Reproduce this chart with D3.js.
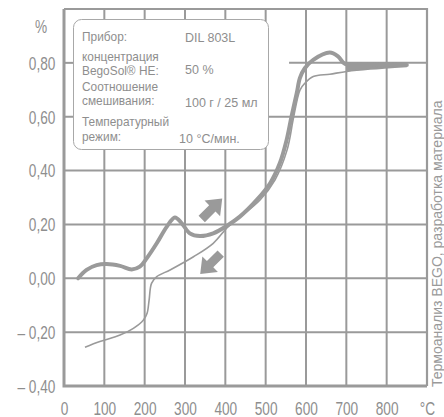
<!DOCTYPE html>
<html>
<head>
<meta charset="utf-8">
<script src="https://cdn.jsdelivr.net/npm/d3@7"></script>
<style>
  body { margin: 0; background: #fff; }
  svg { display: block; }
  .tick-label { font-family: "Liberation Sans", Arial, sans-serif; fill: #8e8e8e; }
  .legend text { font-family: "Liberation Sans", Arial, sans-serif; font-size: 12.5px; fill: #8e8e8e; }
</style>
</head>
<body>
<svg id="chart"></svg>
<script>
// heating curve (thick) – temperature °C / expansion %
const heatTemp  = [35, 56, 81, 106, 139, 168, 188, 205, 230, 255, 275, 292, 312, 337, 370, 407, 436, 478, 511, 535, 552, 564, 577, 585, 597, 618, 659, 680, 697, 759, 850];
const heatValue = [0.000, 0.031, 0.049, 0.053, 0.046, 0.033, 0.043, 0.074, 0.130, 0.192, 0.226, 0.204, 0.167, 0.157, 0.167, 0.198, 0.229, 0.291, 0.353, 0.427, 0.514, 0.600, 0.687, 0.744, 0.780, 0.811, 0.838, 0.823, 0.796, 0.794, 0.792];

// cooling curve (thin)
const coolTemp  = [52, 89, 139, 172, 197, 206, 211, 217, 230, 263, 321, 370, 407, 440, 486, 523, 553, 568, 578, 585, 597, 618, 659, 701, 759, 850];
const coolValue = [-0.256, -0.235, -0.211, -0.186, -0.155, -0.130, -0.081, -0.019, 0.006, 0.031, 0.080, 0.130, 0.192, 0.232, 0.291, 0.365, 0.476, 0.588, 0.662, 0.699, 0.724, 0.749, 0.758, 0.768, 0.777, 0.787];

const xTicks = [0, 100, 200, 300, 400, 500, 600, 700, 800, 900];
const xTickLabels = ["0", "100", "200", "300", "400", "500", "600", "700", "800", "°C"];
const yTicks = [-0.4, -0.2, 0, 0.2, 0.4, 0.6, 0.8];

const legendLabels = [["Прибор:"], ["концентрация", "BegoSol® HE:"], ["Соотношение", "смешивания:"], ["Температурный", "режим:"]];
const legendValues = ["DIL 803L", "50 %", "100 г / 25 мл", "10 °C/мин."];

const sideNote = "Термоанализ BEGO, разработка материала";

const W = 444, H = 417;
const grey = "#9a9a9a";
const condensed = 0.78;

const svg = d3.select("#chart").attr("width", W).attr("height", H);

const x = d3.scaleLinear().domain([0, 900]).range([64, 427]);
const y = d3.scaleLinear().domain([-0.4, 1.0]).range([386, 9]);

// grid
const grid = svg.append("g");
grid.selectAll(".vgrid")
  .data(xTicks.slice(1, -1))
  .join("line")
  .attr("x1", d => x(d)).attr("x2", d => x(d))
  .attr("y1", y(1.0)).attr("y2", y(-0.4))
  .attr("stroke", grey).attr("stroke-width", 2);

// the 0.80 line is only drawn at the right side (and a stub under the box)
const hSegments = [[-0.2, 0, 900], [0, 0, 900], [0.2, 0, 900], [0.4, 0, 900], [0.6, 0, 900], [0.8, 0, 60], [0.8, 558, 900]];
grid.selectAll(".hgrid")
  .data(hSegments)
  .join("line")
  .attr("x1", d => x(d[1])).attr("x2", d => x(d[2]))
  .attr("y1", d => y(d[0])).attr("y2", d => y(d[0]))
  .attr("stroke", grey).attr("stroke-width", 2);

// frame
svg.append("path")
  .attr("d", `M${x(0)},${y(1.0)}H${x(900)}V${y(-0.4)}`)
  .attr("fill", "none").attr("stroke", grey).attr("stroke-width", 2.2);
svg.append("path")
  .attr("d", `M${x(0)},${y(1.0)}V${y(-0.4)}H${x(900)}`)
  .attr("fill", "none").attr("stroke", grey).attr("stroke-width", 3);

// axes labels
const fmt = v => {
  const s = d3.format(".2f")(Math.abs(v)).replace(".", ",");
  return v < -1e-9 ? "– " + s : s;
};

const xAxis = d3.axisBottom(x).tickValues(xTicks).tickSize(0)
  .tickFormat((d, i) => xTickLabels[i]);
const xAxisG = svg.append("g").attr("transform", `translate(0,${y(-0.4)})`).call(xAxis);
xAxisG.select(".domain").remove();
xAxisG.selectAll("text")
  .attr("class", "tick-label")
  .attr("y", 29).attr("dy", 0)
  .attr("font-size", 17.5)
  .attr("transform", `scale(${condensed},1)`);

const yAxis = d3.axisLeft(y).tickValues(yTicks).tickSize(0).tickFormat(fmt);
const yAxisG = svg.append("g").attr("transform", `translate(${x(0)},0)`).call(yAxis);
yAxisG.select(".domain").remove();
yAxisG.selectAll("text")
  .attr("class", "tick-label")
  .attr("x", -11).attr("dy", "0.36em")
  .attr("font-size", 17.5)
  .attr("transform", `scale(${condensed},1)`);

svg.append("text")
  .attr("class", "tick-label")
  .attr("transform", `translate(41,33) scale(${condensed},1)`)
  .attr("text-anchor", "middle")
  .attr("font-size", 17.5)
  .text("%");

// curves
const heat = heatTemp.map((t, i) => [t, heatValue[i]]);
const cool = coolTemp.map((t, i) => [t, coolValue[i]]);

const line = d3.line()
  .x(d => x(d[0])).y(d => y(d[1]))
  .curve(d3.curveCatmullRom.alpha(0.5));

// small wedge between heating and cooling near the end
const heatAt = d3.scaleLinear().domain(heatTemp).range(heatValue);
const tail = cool.filter(d => d[0] >= 697);
svg.append("path")
  .datum(tail)
  .attr("d", d3.area().x(d => x(d[0])).y0(d => y(d[1])).y1(d => y(heatAt(d[0]))))
  .attr("fill", grey);

svg.append("path")
  .datum(cool)
  .attr("d", line)
  .attr("fill", "none").attr("stroke", grey).attr("stroke-width", 1.6);

svg.append("path")
  .datum(heat)
  .attr("d", line)
  .attr("fill", "none").attr("stroke", grey).attr("stroke-width", 4)
  .attr("stroke-linecap", "round").attr("stroke-linejoin", "round");

// direction arrows
const arrowShape = "M-14,-4.5H1V-11L15,0L1,11V4.5H-14Z";
const arrows = [{t: 366, v: 0.257, angle: -45}, {t: 364, v: 0.055, angle: 135}];
svg.selectAll(".arrow")
  .data(arrows)
  .join("path")
  .attr("d", arrowShape)
  .attr("transform", d => `translate(${x(d.t)},${y(d.v)}) rotate(${d.angle})`)
  .attr("fill", grey);

// legend box
const legend = svg.append("g").attr("class", "legend");
legend.append("rect")
  .attr("x", 73.5).attr("y", 19.5)
  .attr("width", 195).attr("height", 130)
  .attr("rx", 8)
  .attr("fill", "#fff").attr("stroke", "#a8a8a8").attr("stroke-width", 1);

const labelBase = [[41.5], [61.5, 75], [91, 105], [126.5, 141]];
const valueBase = [41.5, 73.5, 106.5, 143];
const valueX = [185, 185, 185, 179];
legendLabels.forEach((lines, i) => {
  lines.forEach((txt, j) => {
    legend.append("text").attr("x", 82).attr("y", labelBase[i][j])
      .attr("transform", `translate(82,0) scale(0.95,1) translate(-82,0)`).text(txt);
  });
  legend.append("text").attr("x", valueX[i]).attr("y", valueBase[i]).text(legendValues[i]);
});

// side note
svg.append("text")
  .attr("transform", `translate(442,387) rotate(-90)`)
  .attr("font-family", "'Liberation Sans', Arial, sans-serif")
  .attr("font-size", 14)
  .attr("fill", "#9a9a9a")
  .text(sideNote);
</script>
</body>
</html>
